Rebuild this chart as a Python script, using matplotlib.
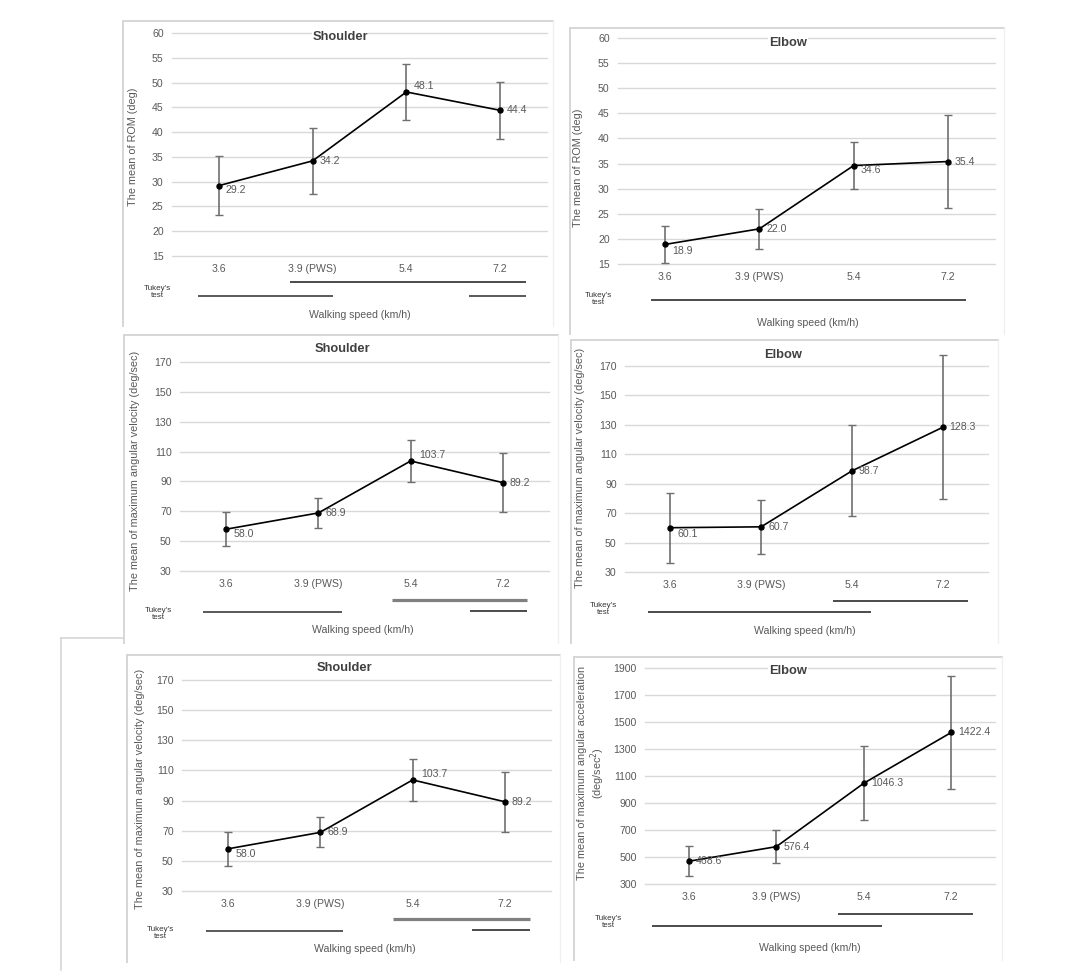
import matplotlib
matplotlib.use('Agg')
import matplotlib.pyplot as plt
from matplotlib.transforms import blended_transform_factory

plt.rcParams['font.family'] = ['Liberation Sans', 'DejaVu Sans']

W, H = 1082, 980

# ---------------- data ----------------
speeds = ['3.6', '3.9 (PWS)', '5.4', '7.2']

shoulder_rom_mean = [29.2, 34.2, 48.1, 44.4]
shoulder_rom_sd = [5.9, 6.65, 5.65, 5.7]
elbow_rom_mean = [18.9, 22.0, 34.6, 35.4]
elbow_rom_sd = [3.65, 4.0, 4.65, 9.3]
shoulder_vel_mean = [58.0, 68.9, 103.7, 89.2]
shoulder_vel_sd = [11.2, 9.9, 13.9, 20.0]
elbow_vel_mean = [60.1, 60.7, 98.7, 128.3]
elbow_vel_sd = [23.8, 18.4, 30.9, 49.0]
elbow_acc_mean = [468.6, 576.4, 1046.3, 1422.4]
elbow_acc_sd = [113, 123, 275, 415]

titles = ['Shoulder', 'Elbow', 'Shoulder', 'Elbow', 'Shoulder', 'Elbow']
ylabels = ['The mean of ROM (deg)',
           'The mean of ROM (deg)',
           'The mean of maximum angular velocity (deg/sec)',
           'The mean of maximum angular velocity (deg/sec)',
           'The mean of maximum angular velocity (deg/sec)',
           'The mean of maximum angular acceleration\n(deg/sec$^2$)']
xlabel = 'Walking speed (km/h)'
tukey_text = "Tukey's\ntest"

# ---------------- layout (pixels) ----------------
GRAY_TXT = '#595959'
panels = [
    dict(mean=shoulder_rom_mean, sd=shoulder_rom_sd, ylim=(15, 60), step=5,
         grid=(172, 547, 33, 256), border=(123, 21, 553, 326),
         title=(340, 37), ylab=(133, 147), tukey=(157, 292), xlab=(360, 315),
         dy=[4, 0, -6, 0],
         tlines=[(1.76, 4.28, 282, '#1a1a1a', 1.1), (0.78, 2.22, 296, '#595959', 1.4),
                 (3.67, 4.28, 296, '#595959', 1.4)]),
    dict(mean=elbow_rom_mean, sd=elbow_rom_sd, ylim=(15, 60), step=5,
         grid=(618, 995, 38, 264), border=(570, 28, 1004, 334),
         title=(788, 43), ylab=(578, 168), tukey=(598, 299), xlab=(808, 323),
         dy=[7, 0, 4, 0],
         tlines=[(0.85, 4.19, 300, '#1a1a1a', 1.1)]),
    dict(mean=shoulder_vel_mean, sd=shoulder_vel_sd, ylim=(30, 170), step=20,
         grid=(180, 549, 362, 571), border=(124, 335, 558, 643),
         title=(342, 349), ylab=(135, 471), tukey=(158, 614), xlab=(363, 630),
         dy=[5, 0, -6, 0],
         tlines=[(2.80, 4.26, 600, '#808080', 2.3), (3.64, 4.26, 611, '#1a1a1a', 1.1),
                 (0.75, 2.26, 612, '#595959', 1.4)]),
    dict(mean=elbow_vel_mean, sd=elbow_vel_sd, ylim=(30, 170), step=20,
         grid=(625, 988, 366, 572), border=(571, 340, 998, 643),
         title=(783, 355), ylab=(580, 468), tukey=(603, 609), xlab=(805, 631),
         dy=[6, 0, 0, 0],
         tlines=[(2.79, 4.28, 601, '#1a1a1a', 1.1), (0.75, 3.21, 612, '#1a1a1a', 1.1)]),
    dict(mean=shoulder_vel_mean, sd=shoulder_vel_sd, ylim=(30, 170), step=20,
         grid=(182, 551, 680, 891), border=(127, 655, 560, 962),
         title=(344, 668), ylab=(140, 789), tukey=(160, 933), xlab=(365, 949),
         dy=[5, 0, -6, 0],
         tlines=[(2.79, 4.27, 919, '#808080', 2.3), (3.64, 4.27, 930, '#1a1a1a', 1.1),
                 (0.76, 2.25, 931, '#595959', 1.4)]),
    dict(mean=elbow_acc_mean, sd=elbow_acc_sd, ylim=(300, 1900), step=200,
         grid=(645, 995, 668, 884), border=(574, 657, 1002, 960),
         title=(788, 671), ylab=(592, 773), tukey=(608, 922), xlab=(810, 948),
         dy=[0, 0, 0, 0],
         tlines=[(2.71, 4.25, 914, '#1a1a1a', 1.1), (0.58, 3.21, 926, '#1a1a1a', 1.1)]),
]


def fx(x):
    return x / W


def fy(y):
    return 1 - y / H


fig = plt.figure(figsize=(W / 100, H / 100), dpi=100)
fig.patch.set_facecolor('white')

# panel borders
for p in panels:
    l, t, r, b = p['border']
    fig.add_artist(plt.Line2D([fx(l), fx(r)], [fy(t), fy(t)], color='#d6d6d6', lw=1.4))
    fig.add_artist(plt.Line2D([fx(l), fx(l)], [fy(t), fy(b)], color='#d6d6d6', lw=1.4))
    fig.add_artist(plt.Line2D([fx(r), fx(r)], [fy(t), fy(b)], color='#f0f0f0', lw=1.0))
# stray frame fragment at lower left
fig.add_artist(plt.Line2D([fx(61), fx(61)], [fy(638), fy(970)], color='#d6d6d6', lw=1.2))
fig.add_artist(plt.Line2D([fx(61), fx(124)], [fy(638), fy(638)], color='#d6d6d6', lw=1.2))

for i, p in enumerate(panels):
    x0, x1, yt, yb = p['grid']
    ax = fig.add_axes([fx(x0), fy(yb), (x1 - x0) / W, (yb - yt) / H])
    ax.set_facecolor('none')
    lo, hi = p['ylim']
    ax.set_ylim(lo, hi)
    ax.set_xlim(0.5, 4.5)
    ax.set_yticks(list(range(lo, hi + 1, p['step'])))
    ax.set_xticks([1, 2, 3, 4])
    ax.set_xticklabels(speeds)
    for s in ax.spines.values():
        s.set_visible(False)
    ax.tick_params(axis='both', length=0, labelsize=7.6, labelcolor=GRAY_TXT, pad=6)
    ax.yaxis.grid(True, color='#d9d9d9', lw=1.0)
    ax.set_axisbelow(True)
    for gl in ax.get_ygridlines():
        gl.set_clip_on(False)

    xs = [1, 2, 3, 4]
    ax.errorbar(xs, p['mean'], yerr=p['sd'], fmt='none', ecolor='#6f6f6f',
                elinewidth=1.2, capsize=2.6, capthick=1.0, zorder=2, clip_on=False)
    ax.plot(xs, p['mean'], color='black', lw=1.2, marker='o', markersize=3.6,
            zorder=3, clip_on=False)
    for k, (xv, v) in enumerate(zip(xs, p['mean'])):
        dx = 9 if v > 100 and p['dy'][k] < 0 else 7
        ax.annotate(f'{v:.1f}', (xv, v), xytext=(dx, -p['dy'][k]),
                    textcoords='offset pixels', ha='left', va='center',
                    fontsize=7.6, color=GRAY_TXT, zorder=4)

    tr = blended_transform_factory(ax.transData, fig.transFigure)
    for (a, b, yy, col, lw) in p['tlines']:
        ax.plot([a, b], [fy(yy), fy(yy)], transform=tr, color=col, lw=lw,
                clip_on=False, solid_capstyle='butt')

    fig.text(fx(p['title'][0]), fy(p['title'][1]), titles[i], ha='center', va='center',
             fontsize=9.3, fontweight='bold', color='#404040', zorder=5,
             bbox=dict(facecolor='white', edgecolor='none', pad=0.5))
    fig.text(fx(p['ylab'][0]), fy(p['ylab'][1]), ylabels[i], rotation=90,
             ha='center', va='center', fontsize=7.8, color=GRAY_TXT,
             multialignment='center', linespacing=1.1)
    fig.text(fx(p['tukey'][0]), fy(p['tukey'][1]), tukey_text, ha='center', va='center',
             fontsize=5.8, color='#333333', linespacing=1.15)
    fig.text(fx(p['xlab'][0]), fy(p['xlab'][1]), xlabel, ha='center', va='center',
             fontsize=7.6, color=GRAY_TXT)

fig.savefig('out.png', dpi=100, facecolor='white')
